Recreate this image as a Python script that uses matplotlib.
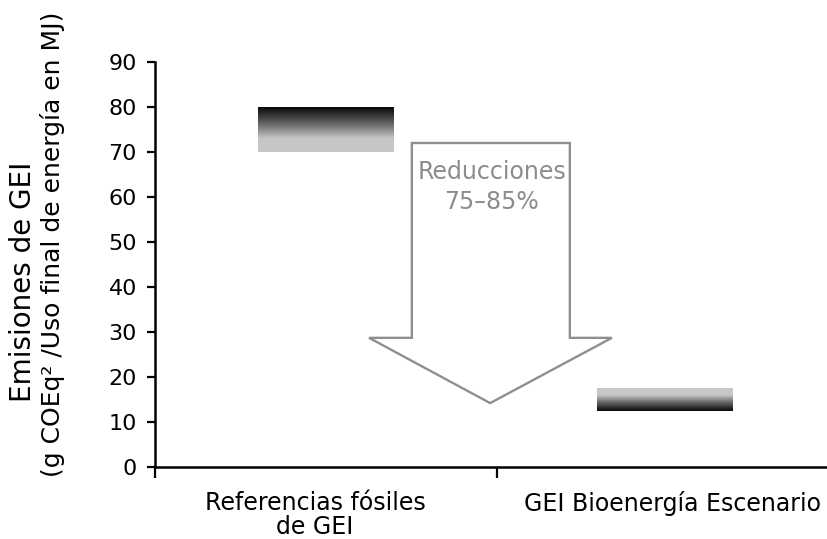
import matplotlib
matplotlib.use("Agg")
import matplotlib.pyplot as plt
import numpy as np
from matplotlib.colors import LinearSegmentedColormap
from matplotlib.patches import Polygon

# Data
categories = ["Referencias fósiles\nde GEI", "GEI Bioenergía Escenario"]
cat_pos = [0.5, 1.49]
label_pos = [0.468, 1.513]
range_low = [70, 12.5]
range_high = [80, 17.5]
dark_on_top = [True, False]

# Arrow annotation (data coordinates)
arrow_top = 72
arrow_neck = 28.7
arrow_tip = 14.2
shaft_x = [0.751, 1.213]
head_x = [0.626, 1.336]
tip_x = 0.98
arrow_label = "Reducciones\n75–85%"

y_ticks = list(range(0, 91, 10))
ylabel_lines = ["Emisiones de GEI", "(g COEq² /Uso final de energía en MJ)"]

W, H = 827, 539
fig = plt.figure(figsize=(W / 100, H / 100), dpi=100)
ax = fig.add_axes([155 / W, 72 / H, 672 / W, 405 / H])

# Gradient bars
cmap = LinearSegmentedColormap.from_list(
    "grey_grad", [(0, "#0a0a0a"), (0.35, "#606060"), (0.7, "#c6c6c6"), (1, "#c8c8c8")]
)
bar_w = 0.395
for x, lo, hi, dark in zip(cat_pos, range_low, range_high, dark_on_top):
    grad = np.linspace(0, 1, 64).reshape(-1, 1)
    if not dark:
        grad = grad[::-1]
    ax.imshow(grad, cmap=cmap, aspect="auto", origin="upper",
              extent=(x - bar_w / 2, x + bar_w / 2, lo, hi), zorder=2)

# Down arrow outline
pts = [
    (shaft_x[0], arrow_top),
    (shaft_x[1], arrow_top),
    (shaft_x[1], arrow_neck),
    (head_x[1], arrow_neck),
    (tip_x, arrow_tip),
    (head_x[0], arrow_neck),
    (shaft_x[0], arrow_neck),
]
ax.add_patch(Polygon(pts, closed=True, facecolor="white", edgecolor="#8f8f8f",
                     linewidth=1.7, zorder=3))
ax.text(0.985, 62.2, arrow_label, ha="center", va="center", color="#8c8c8c",
        fontsize=17, linespacing=1.3, zorder=4)

ax.set_xlim(0, 1.965)
ax.set_ylim(0, 90)
ax.set_yticks(y_ticks)
ax.tick_params(axis="y", labelsize=16, width=1.6, length=6, direction="out", pad=7)

ax.set_xticks([0, 1])
ax.set_xticklabels(["", ""])
ax.tick_params(axis="x", which="major", width=1.6, length=8, direction="out")
ax.set_xticks(label_pos, minor=True)
ax.set_xticklabels(categories, minor=True, fontsize=17, linespacing=1.0)
ax.tick_params(axis="x", which="minor", length=0, pad=17)

for s in ["top", "right"]:
    ax.spines[s].set_visible(False)
for s in ["left", "bottom"]:
    ax.spines[s].set_linewidth(1.8)

# Y label, two lines placed individually
fig.text(23 / W, 1 - 282 / H, ylabel_lines[0], rotation=90, ha="center",
         va="center", fontsize=20)
fig.text(53 / W, 1 - 244 / H, ylabel_lines[1], rotation=90, ha="center",
         va="center", fontsize=18)

fig.savefig("out.png", dpi=100)
